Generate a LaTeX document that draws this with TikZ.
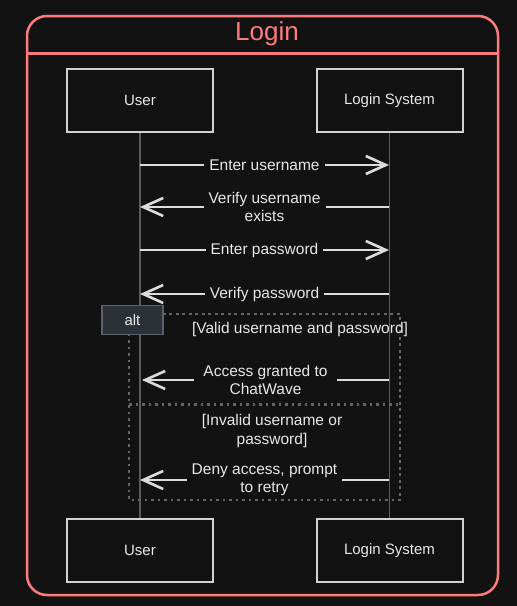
\documentclass[tikz,border=0pt]{standalone}
\usepackage{fontspec}
\setmainfont{Liberation Sans}
\usetikzlibrary{arrows.meta}
\definecolor{bg}{HTML}{121212}
\definecolor{framec}{HTML}{FF7B7B}
\definecolor{boxline}{HTML}{D2D2D2}
\definecolor{txt}{HTML}{E8E8E8}
\definecolor{life}{HTML}{5C5C5C}
\definecolor{dotc}{HTML}{5E6770}
\definecolor{altfill}{HTML}{2B3137}
\definecolor{altline}{HTML}{59626B}
\definecolor{arrowc}{HTML}{DCDCDC}
\begin{document}
\begin{tikzpicture}[x=1pt,y=-1pt,
  actor/.style={draw=boxline, line width=2pt, fill=bg, minimum width=146pt, minimum height=63pt, text=txt, inner sep=0pt, font=\fontsize{15}{17}\selectfont},
  msg/.style={draw=arrowc, line width=2.8pt, -{Straight Barb[length=20pt,width=18pt,line width=2.6pt]}},
  lbl/.style={fill=bg, text=txt, align=center, inner xsep=5pt, inner ysep=1pt, font=\fontsize{15.5}{18}\selectfont},
  cond/.style={text=txt, align=center, inner sep=0pt, font=\fontsize{15.5}{19}\selectfont},
  lifeline/.style={draw=life, line width=1.5pt},
  dotline/.style={draw=dotc, line width=2.2pt, dash pattern=on 2.8pt off 3.7pt}]
\fill[bg] (0,0) rectangle (517,606);
\useasboundingbox (0,0) rectangle (517,606);
% outer frame
\draw[framec, line width=2.5pt, rounded corners=20pt] (27,16) rectangle (498,595);
\draw[framec, line width=2.5pt] (28,53.5) -- (497,53.5);
\node[text=framec, font=\fontsize{26}{28}\selectfont] (title) at (267,34) {Login};
% actors
\node[actor] (u1) at (140,100.5) {User};
\node[actor] (s1) at (389.5,100.5) {Login System};
\node[actor] (u2) at (140,550.5) {User};
\node[actor] (s2) at (389.5,550.5) {Login System};
% lifelines
\draw[lifeline] (u1.south) -- (u2.north);
\draw[lifeline] (s1.south) -- (s2.north);
% alt frame
\draw[dotline] (129,314) rectangle (400,500);
\draw[dotline] (129,404.5) -- (400,404.5);
\node[draw=altline, line width=1.5pt, fill=altfill, minimum width=61pt, minimum height=29pt, inner sep=0pt, text=txt, font=\fontsize{15}{17}\selectfont] (alt) at (132.5,320) {alt};
\node[cond] (c1) at (300,329) {[Valid username and password]};
\node[cond] (c2) at (272,430.5) {[Invalid username or\\password]};
% message anchors
\coordinate (a1) at (140,165);  \coordinate (b1) at (389,165);
\coordinate (a2) at (140,207);  \coordinate (b2) at (389,207);
\coordinate (a3) at (140,250);  \coordinate (b3) at (389,250);
\coordinate (a4) at (140,294);  \coordinate (b4) at (389,294);
\coordinate (a5) at (142,380);  \coordinate (b5) at (389,380);
\coordinate (a6) at (140,480);  \coordinate (b6) at (389,480);
% messages
\draw[msg] (a1) -- node[lbl] (m1) {Enter username} (b1);
\draw[msg] (b2) -- node[lbl] (m2) {Verify username\\exists} (a2);
\draw[msg] (a3) -- node[lbl] (m3) {Enter password} (b3);
\draw[msg] (b4) -- node[lbl] (m4) {Verify password} (a4);
\draw[msg] (b5) -- node[lbl, inner xsep=9pt] (m5) {Access granted to\\ChatWave} (a5);
\draw[msg] (b6) -- node[lbl] (m6) {Deny access, prompt\\to retry} (a6);
\end{tikzpicture}
\end{document}
